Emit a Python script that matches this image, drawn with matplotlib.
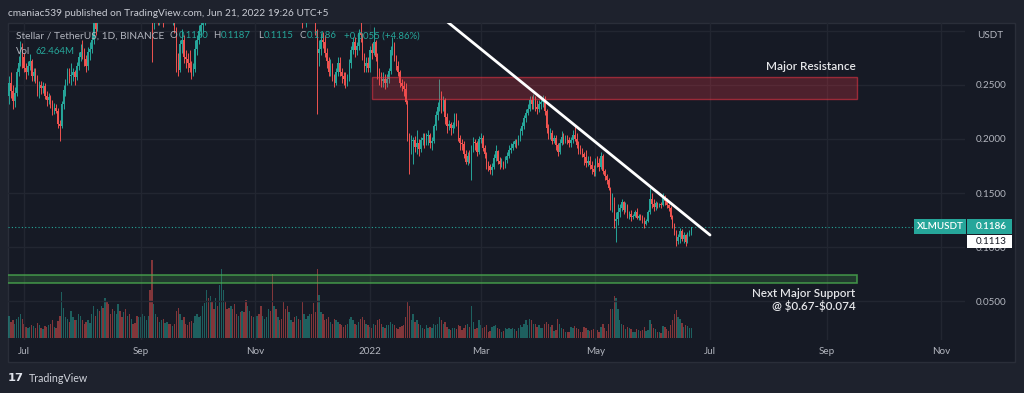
import matplotlib
matplotlib.use('Agg')
import matplotlib.pyplot as plt
import matplotlib.patches as mpatches
import numpy as np
import pandas as pd

# ---------------- data (XLM/USDT daily, Binance) ----------------
start_date = '2021-06-21'
first_open = 0.262

close = [
    # Jun 2021 (21-30)
    0.238, 0.240, 0.252, 0.244, 0.235, 0.243, 0.262, 0.270, 0.281, 0.276,
    # Jul
    0.266, 0.262, 0.268, 0.272, 0.258, 0.262, 0.256, 0.243, 0.250, 0.247, 0.249, 0.240, 0.236, 0.239, 0.232, 0.226,
    0.229, 0.226, 0.214, 0.212, 0.232, 0.245, 0.252, 0.262, 0.258, 0.259, 0.262, 0.257, 0.268, 0.276, 0.281,
    # Aug
    0.279, 0.274, 0.268, 0.281, 0.283, 0.292, 0.310, 0.302, 0.322, 0.320, 0.331, 0.328, 0.352, 0.350, 0.342, 0.339,
    0.326, 0.348, 0.362, 0.382, 0.371, 0.369, 0.380, 0.352, 0.355, 0.331, 0.349, 0.344, 0.340, 0.328, 0.340,
    # Sep
    0.341, 0.356, 0.372, 0.378, 0.391, 0.380, 0.318, 0.322, 0.328, 0.310, 0.318, 0.328, 0.312, 0.320, 0.330,
    0.322, 0.312, 0.316, 0.302, 0.270, 0.264, 0.288, 0.292, 0.276, 0.274, 0.270, 0.266, 0.259, 0.265, 0.283,
    # Oct
    0.292, 0.300, 0.306, 0.311, 0.322, 0.332, 0.330, 0.340, 0.338, 0.335, 0.348, 0.342, 0.352, 0.372, 0.392, 0.388,
    0.380, 0.372, 0.382, 0.380, 0.378, 0.372, 0.380, 0.372, 0.382, 0.370, 0.332, 0.352, 0.372, 0.362, 0.362,
    # Nov
    0.370, 0.372, 0.366, 0.356, 0.366, 0.368, 0.382, 0.396, 0.386, 0.358, 0.366, 0.358, 0.360, 0.358, 0.354,
    0.330, 0.328, 0.312, 0.322, 0.328, 0.320, 0.312, 0.320, 0.318, 0.326, 0.312, 0.314, 0.318, 0.330, 0.332,
    # Dec
    0.326, 0.316, 0.300, 0.280, 0.283, 0.292, 0.290, 0.280, 0.272, 0.262, 0.268, 0.258, 0.252, 0.262, 0.270, 0.262,
    0.258, 0.256, 0.254, 0.257, 0.270, 0.282, 0.290, 0.282, 0.286, 0.298, 0.296, 0.276, 0.268, 0.270, 0.266,
    # Jan 2022
    0.282, 0.280, 0.290, 0.276, 0.262, 0.258, 0.254, 0.256, 0.252, 0.256, 0.263, 0.282, 0.288, 0.276, 0.268, 0.262,
    0.252, 0.249, 0.246, 0.234, 0.203, 0.194, 0.198, 0.199, 0.193, 0.196, 0.191, 0.199, 0.201, 0.196, 0.203,
    # Feb
    0.204, 0.196, 0.198, 0.212, 0.222, 0.230, 0.241, 0.230, 0.236, 0.220, 0.212, 0.214, 0.210, 0.213,
    0.222, 0.216, 0.201, 0.196, 0.195, 0.186, 0.179, 0.184, 0.181, 0.190, 0.197, 0.196, 0.188, 0.200,
    # Mar
    0.201, 0.192, 0.186, 0.176, 0.175, 0.171, 0.174, 0.182, 0.189, 0.180, 0.177, 0.178, 0.175, 0.181, 0.184, 0.190,
    0.192, 0.195, 0.198, 0.196, 0.201, 0.207, 0.212, 0.219, 0.224, 0.228, 0.236, 0.232, 0.238, 0.230, 0.228,
    # Apr
    0.232, 0.234, 0.237, 0.226, 0.210, 0.204, 0.206, 0.198, 0.201, 0.194, 0.188, 0.196, 0.202, 0.198, 0.200,
    0.199, 0.196, 0.199, 0.204, 0.200, 0.194, 0.190, 0.189, 0.186, 0.183, 0.178, 0.180, 0.176, 0.172, 0.169,
    # May
    0.180, 0.178, 0.174, 0.184, 0.170, 0.166, 0.162, 0.155, 0.139, 0.141, 0.124, 0.126, 0.132, 0.136, 0.142, 0.134,
    0.138, 0.129, 0.131, 0.128, 0.129, 0.132, 0.127, 0.129, 0.128, 0.125, 0.121, 0.124, 0.132, 0.144, 0.140,
    # Jun 2022 (1-21)
    0.137, 0.141, 0.139, 0.140, 0.139, 0.146, 0.143, 0.139, 0.136, 0.128, 0.121, 0.114, 0.106, 0.109, 0.115,
    0.107, 0.111, 0.105, 0.112, 0.1131, 0.1186,
]

high = [
    0.265, 0.248, 0.258, 0.262, 0.250, 0.248, 0.266, 0.277, 0.291, 0.289,
    0.280, 0.270, 0.272, 0.279, 0.274, 0.266, 0.266, 0.259, 0.254, 0.254, 0.253, 0.252, 0.244, 0.243, 0.241, 0.236,
    0.233, 0.232, 0.229, 0.218, 0.235, 0.250, 0.256, 0.266, 0.266, 0.270, 0.266, 0.264, 0.271, 0.281, 0.288,
    0.292, 0.284, 0.278, 0.285, 0.290, 0.297, 0.316, 0.318, 0.330, 0.328, 0.340, 0.336, 0.358, 0.360, 0.354, 0.350,
    0.345, 0.352, 0.368, 0.390, 0.386, 0.378, 0.392, 0.384, 0.364, 0.358, 0.352, 0.352, 0.350, 0.345, 0.346,
    0.350, 0.362, 0.378, 0.384, 0.396, 0.398, 0.382, 0.330, 0.338, 0.334, 0.324, 0.336, 0.330, 0.326, 0.336,
    0.336, 0.326, 0.322, 0.320, 0.304, 0.280, 0.292, 0.302, 0.296, 0.282, 0.280, 0.282, 0.272, 0.270, 0.292,
    0.296, 0.306, 0.312, 0.316, 0.328, 0.340, 0.340, 0.352, 0.345, 0.344, 0.355, 0.352, 0.358, 0.378, 0.410, 0.402,
    0.392, 0.388, 0.390, 0.392, 0.394, 0.384, 0.386, 0.384, 0.390, 0.388, 0.374, 0.358, 0.380, 0.378, 0.370,
    0.378, 0.380, 0.380, 0.370, 0.370, 0.374, 0.386, 0.402, 0.400, 0.398, 0.372, 0.370, 0.368, 0.364, 0.364,
    0.356, 0.336, 0.332, 0.326, 0.334, 0.332, 0.326, 0.324, 0.326, 0.332, 0.334, 0.320, 0.322, 0.338, 0.342,
    0.338, 0.330, 0.320, 0.302, 0.292, 0.298, 0.299, 0.296, 0.284, 0.276, 0.274, 0.270, 0.260, 0.266, 0.276, 0.276,
    0.266, 0.262, 0.262, 0.260, 0.274, 0.286, 0.294, 0.294, 0.290, 0.302, 0.308, 0.298, 0.280, 0.276, 0.276,
    0.286, 0.289, 0.304, 0.292, 0.280, 0.266, 0.262, 0.262, 0.260, 0.260, 0.266, 0.286, 0.294, 0.290, 0.278, 0.272,
    0.264, 0.256, 0.254, 0.252, 0.236, 0.206, 0.204, 0.202, 0.203, 0.208, 0.200, 0.202, 0.206, 0.206, 0.206,
    0.208, 0.206, 0.202, 0.214, 0.226, 0.234, 0.256, 0.244, 0.240, 0.238, 0.224, 0.218, 0.216, 0.216,
    0.224, 0.224, 0.218, 0.204, 0.200, 0.198, 0.190, 0.188, 0.190, 0.194, 0.202, 0.200, 0.198, 0.203,
    0.206, 0.204, 0.194, 0.188, 0.180, 0.177, 0.178, 0.186, 0.194, 0.190, 0.183, 0.182, 0.180, 0.184, 0.188, 0.194,
    0.196, 0.198, 0.200, 0.200, 0.204, 0.210, 0.216, 0.222, 0.228, 0.232, 0.240, 0.240, 0.242, 0.240, 0.236,
    0.236, 0.240, 0.241, 0.240, 0.228, 0.214, 0.210, 0.208, 0.204, 0.204, 0.196, 0.200, 0.207, 0.206, 0.204,
    0.204, 0.202, 0.202, 0.208, 0.213, 0.206, 0.198, 0.194, 0.192, 0.188, 0.190, 0.184, 0.184, 0.180, 0.176,
    0.182, 0.184, 0.182, 0.188, 0.186, 0.172, 0.168, 0.164, 0.156, 0.150, 0.146, 0.132, 0.140, 0.140, 0.144, 0.143,
    0.142, 0.140, 0.133, 0.134, 0.131, 0.134, 0.136, 0.131, 0.131, 0.130, 0.128, 0.126, 0.134, 0.155, 0.150,
    0.144, 0.143, 0.142, 0.141, 0.142, 0.150, 0.148, 0.145, 0.140, 0.138, 0.130, 0.122, 0.116, 0.112, 0.118,
    0.117, 0.114, 0.112, 0.114, 0.116, 0.1187,
]

low = [
    0.224, 0.215, 0.232, 0.238, 0.228, 0.230, 0.240, 0.258, 0.268, 0.266,
    0.262, 0.256, 0.259, 0.264, 0.254, 0.254, 0.252, 0.240, 0.238, 0.242, 0.243, 0.237, 0.231, 0.232, 0.229, 0.222,
    0.223, 0.224, 0.210, 0.198, 0.210, 0.228, 0.240, 0.250, 0.252, 0.250, 0.254, 0.250, 0.255, 0.264, 0.272,
    0.274, 0.268, 0.262, 0.264, 0.273, 0.280, 0.288, 0.296, 0.300, 0.310, 0.316, 0.320, 0.326, 0.340, 0.334, 0.330,
    0.322, 0.322, 0.342, 0.360, 0.362, 0.360, 0.366, 0.348, 0.342, 0.326, 0.328, 0.336, 0.335, 0.322, 0.326,
    0.330, 0.338, 0.352, 0.366, 0.374, 0.374, 0.271, 0.302, 0.312, 0.306, 0.306, 0.312, 0.304, 0.308, 0.316,
    0.316, 0.308, 0.306, 0.298, 0.262, 0.258, 0.262, 0.280, 0.270, 0.266, 0.262, 0.262, 0.256, 0.258, 0.262,
    0.278, 0.288, 0.294, 0.298, 0.306, 0.316, 0.324, 0.326, 0.332, 0.326, 0.332, 0.334, 0.338, 0.350, 0.368, 0.376,
    0.370, 0.362, 0.368, 0.370, 0.362, 0.366, 0.370, 0.364, 0.366, 0.364, 0.324, 0.320, 0.348, 0.356, 0.354,
    0.356, 0.362, 0.360, 0.350, 0.352, 0.358, 0.364, 0.378, 0.378, 0.344, 0.348, 0.350, 0.352, 0.350, 0.348,
    0.318, 0.318, 0.308, 0.309, 0.318, 0.314, 0.309, 0.310, 0.310, 0.314, 0.303, 0.308, 0.304, 0.312, 0.320,
    0.322, 0.312, 0.296, 0.223, 0.268, 0.278, 0.284, 0.276, 0.266, 0.258, 0.258, 0.254, 0.248, 0.250, 0.258, 0.258,
    0.252, 0.250, 0.247, 0.249, 0.254, 0.266, 0.279, 0.276, 0.278, 0.282, 0.290, 0.273, 0.262, 0.262, 0.262,
    0.262, 0.274, 0.278, 0.272, 0.256, 0.250, 0.248, 0.248, 0.246, 0.248, 0.252, 0.260, 0.278, 0.272, 0.264, 0.258,
    0.248, 0.244, 0.240, 0.232, 0.198, 0.168, 0.186, 0.177, 0.188, 0.186, 0.184, 0.188, 0.194, 0.192, 0.194,
    0.194, 0.192, 0.190, 0.196, 0.208, 0.218, 0.226, 0.224, 0.226, 0.214, 0.206, 0.208, 0.204, 0.206,
    0.210, 0.212, 0.198, 0.190, 0.190, 0.182, 0.177, 0.176, 0.178, 0.162, 0.188, 0.190, 0.184, 0.186,
    0.196, 0.189, 0.182, 0.172, 0.170, 0.168, 0.167, 0.172, 0.180, 0.177, 0.172, 0.174, 0.172, 0.173, 0.178, 0.182,
    0.187, 0.190, 0.193, 0.192, 0.194, 0.198, 0.204, 0.209, 0.216, 0.222, 0.226, 0.228, 0.228, 0.226, 0.223,
    0.225, 0.228, 0.230, 0.222, 0.206, 0.200, 0.200, 0.195, 0.196, 0.190, 0.184, 0.186, 0.194, 0.195, 0.196,
    0.195, 0.193, 0.193, 0.196, 0.198, 0.192, 0.186, 0.186, 0.183, 0.176, 0.174, 0.175, 0.172, 0.168, 0.166,
    0.166, 0.174, 0.170, 0.172, 0.168, 0.162, 0.158, 0.153, 0.134, 0.132, 0.118, 0.105, 0.120, 0.128, 0.133, 0.131,
    0.132, 0.127, 0.126, 0.124, 0.126, 0.128, 0.126, 0.125, 0.125, 0.122, 0.118, 0.120, 0.123, 0.131, 0.136,
    0.133, 0.134, 0.136, 0.137, 0.136, 0.138, 0.139, 0.136, 0.133, 0.126, 0.118, 0.111, 0.101, 0.103, 0.104,
    0.106, 0.104, 0.101, 0.104, 0.1105, 0.1115,
]

volume_m = [
    170, 210, 140, 100, 110, 90, 120, 130, 150, 120,
    90, 70, 60, 70, 80, 75, 65, 95, 80, 60, 55, 75, 70, 80, 85, 110, 70, 60, 105, 140, 290, 190, 130, 120, 100,
    170, 130, 110, 115, 150, 140,
    110, 90, 100, 110, 95, 150, 200, 140, 180, 170, 200, 190, 250, 230, 210, 150, 180, 170, 150, 210, 170, 130,
    160, 180, 140, 150, 120, 90, 95, 140, 130,
    130, 150, 140, 110, 140, 300, 485, 210, 150, 130, 100, 110, 120, 95, 100, 90, 85, 75, 85, 170, 190, 150,
    110, 130, 85, 80, 100, 105, 95, 140,
    150, 130, 140, 200, 220, 300, 250, 260, 230, 180, 250, 200, 330, 430, 300, 230, 180, 190, 200, 180, 210,
    150, 140, 160, 170, 160, 240, 200, 170, 140, 130,
    170, 140, 150, 200, 140, 120, 130, 180, 170, 400, 200, 180, 130, 110, 120, 230, 180, 200, 160, 110, 100,
    130, 140, 120, 110, 230, 150, 120, 140, 150,
    150, 220, 160, 434, 270, 160, 150, 110, 120, 130, 100, 90, 120, 110, 100, 90, 80, 70, 80, 90, 120, 130,
    110, 90, 80, 100, 120, 130, 110, 90, 80,
    70, 60, 90, 80, 110, 120, 90, 70, 60, 80, 80, 100, 90, 80, 60, 55, 70, 75, 80, 130, 230, 200, 110, 150,
    100, 110, 90, 80, 60, 55, 80,
    60, 70, 65, 90, 80, 90, 130, 110, 90, 100, 70, 55, 50, 60, 65, 55, 80, 75, 50, 60, 80, 90, 70, 200, 100,
    55, 60, 110,
    80, 60, 70, 80, 40, 45, 70, 75, 80, 60, 55, 40, 45, 60, 55, 65, 55, 60, 55, 45, 60, 80, 70, 90, 110, 80,
    120, 110, 90, 85, 70,
    80, 60, 65, 90, 100, 85, 70, 80, 45, 50, 120, 90, 60, 55, 40, 35, 40, 70, 60, 75, 60, 55, 40, 35, 70, 65,
    50, 45, 50, 55,
    45, 50, 40, 70, 90, 60, 45, 85, 180, 180, 265, 250, 180, 110, 90, 80, 55, 70, 60, 55, 40, 35, 55, 50, 45,
    50, 70, 45, 50, 110, 90,
    60, 55, 40, 35, 30, 75, 70, 55, 45, 80, 110, 150, 175, 130, 120, 95, 70, 80, 75, 65, 62.464,
]

price_ticks = [0.05, 0.10, 0.15, 0.20, 0.25, 0.30]
legend_title = 'Stellar / TetherUS, 1D, BINANCE'
legend_keys = ['O', 'H', 'L', 'C']
legend_vals = ['0.1130', '0.1187', '0.1115', '0.1186']
legend_change = '+0.0055 (+4.86%)'
vol_label = '62.464M'
symbol = 'XLMUSDT'
extra_price_label = '0.1113'
header = 'cmaniac539 published on TradingView.com, Jun 21, 2022 19:26 UTC+5'
support_note = ['Next Major Support', '@ \\$0.67-\\$0.074']

resistance = ('2022-01-02', '2022-09-17', 0.2368, 0.2570)
support = ('2021-06-01', '2022-09-17', 0.0664, 0.0741)
trend = (('2022-02-11', 0.3088), ('2022-07-01', 0.1111))

# ---------------- style ----------------
plt.rcParams['font.family'] = ['Lato', 'DejaVu Sans']
TXT = '#b2b5be'
TEAL = '#26a69a'
RED = '#ef5350'
PANEL = '#161a25'
OUTER = '#1e222d'
GRID = '#222631'

W, H = 1024, 393
def fx(px): return px / W
def fy(py): return 1 - py / H

fig = plt.figure(figsize=(W / 100, H / 100), dpi=100, facecolor=OUTER)
R = fig.canvas.get_renderer()

def fit(t, w):
    t.set_fontsize(10)
    bb = t.get_window_extent(R)
    t.set_fontsize(10 * w / bb.width)
    return t

def width_px(t):
    return t.get_window_extent(R).width

fig.patches.append(mpatches.Rectangle((fx(8), fy(362)), fx(1015) - fx(8), fy(23) - fy(362),
                                      transform=fig.transFigure, facecolor=PANEL,
                                      edgecolor='#2a2e39', lw=1, zorder=-2))

ref = pd.Timestamp('2022-01-01')
def dnum(s): return (pd.Timestamp(s) - ref).days

dates = pd.date_range(start_date, periods=len(close), freq='D')
d = np.asarray((dates - ref).days, dtype=float)
c = np.array(close)
o = np.r_[first_open, c[:-1]]
h = np.maximum(np.array(high), np.maximum(o, c))
l = np.minimum(np.array(low), np.minimum(o, c))
v = np.array(volume_m)
up = c >= o
cols = np.where(up, TEAL, RED)

ax = fig.add_axes([fx(8), fy(340), fx(965) - fx(8), fy(23) - fy(340)])
axv = ax.twinx()
ax.set_zorder(2); axv.set_zorder(1)
ax.patch.set_visible(False); axv.patch.set_visible(False)

ax.set_xlim(-192.6, 316.7)
ax.set_ylim(0.0139, 0.3074)
axv.set_ylim(-12.5, 1967.5)

# volume
axv.bar(d, v, width=0.72, color=cols, alpha=0.5, lw=0)
axv.set_yticks([])
axv.tick_params(right=False, labelright=False)
for s in axv.spines.values():
    s.set_visible(False)

# grid
ms = pd.date_range('2021-07-01', '2022-11-01', freq='2MS')
tick_d = [(m - ref).days for m in ms]
tick_lab = [str(m.year) if m.month == 1 else m.strftime('%b') for m in ms]
for t in tick_d:
    ax.axvline(t, color=GRID, lw=1, zorder=0)
for p in price_ticks:
    ax.axhline(p, color=GRID, lw=1, zorder=0)

# candles
ax.vlines(d, l, h, colors=cols, lw=0.7, zorder=3)
ax.bar(d, np.maximum(np.abs(c - o), 0.0005), bottom=np.minimum(o, c), width=0.72, color=cols, lw=0, zorder=4)

# last price dotted line
ax.axhline(c[-1], color=TEAL, lw=0.8, ls=(0, (1, 2)), zorder=2)

# zones
r0, r1, rb, rt = resistance
ax.add_patch(mpatches.Rectangle((dnum(r0), rb), dnum(r1) - dnum(r0), rt - rb,
                                facecolor=(0.949, 0.212, 0.271, 0.25),
                                edgecolor=(0.949, 0.212, 0.271, 0.55), lw=1, zorder=5))
s0, s1, sb, st = support
ax.add_patch(mpatches.Rectangle((dnum(s0), sb), dnum(s1) - dnum(s0), st - sb,
                                facecolor=(0.298, 0.686, 0.314, 0.22),
                                edgecolor=(0.298, 0.686, 0.314, 0.75), lw=1.2, zorder=5))
# trend line
(t0, p0), (t1, p1) = trend
ax.plot([dnum(t0), dnum(t1)], [p0, p1], color='white', lw=2, solid_capstyle='round', zorder=6)

# annotations
xr = dnum(r1) - 0.6
t = ax.text(xr, 0.2667, 'Major Resistance', ha='right', va='center', color='#e6e7ea', weight='semibold', zorder=7)
fit(t, 90)
t1_ = ax.text(xr, 0.0570, support_note[0], ha='right', va='center', color='#e6e7ea', weight='semibold', zorder=7)
fit(t1_, 103)
ax.text(xr, 0.0458, support_note[1], ha='right', va='center', color='#e6e7ea', weight='semibold',
        fontsize=t1_.get_fontsize(), zorder=7)

# ticks
tmp = fig.text(0, 0, '0.2500')
tick_fs = fit(tmp, 31).get_fontsize()
tmp.remove()
ax.yaxis.tick_right()
ax.set_yticks(price_ticks)
ax.set_yticklabels(['%.4f' % p if p < 0.29 else '' for p in price_ticks])
ax.tick_params(axis='y', length=0, pad=7.9, labelcolor=TXT, labelsize=tick_fs)
ax.set_xticks(tick_d)
ax.set_xticklabels(tick_lab)
ax.tick_params(axis='x', length=0, pad=5.2, labelcolor=TXT, labelsize=tick_fs)
for s in ax.spines.values():
    s.set_visible(False)

fig.text(fx(977), fy(35), 'USDT', color=TXT, fontsize=tick_fs, ha='left', va='center')

# right price labels
yc = ax.transData.transform((0, c[-1]))[1] / H
fig.patches.append(mpatches.Rectangle((fx(914), yc - 7.5 / H), 52 / W, 15 / H, transform=fig.transFigure,
                                      facecolor=TEAL, lw=0, zorder=5))
fig.patches.append(mpatches.Rectangle((fx(967), yc - 7.5 / H), 45 / W, 15 / H, transform=fig.transFigure,
                                      facecolor=TEAL, lw=0, zorder=5))
fig.patches.append(mpatches.Rectangle((fx(967), yc - 21.5 / H), 45 / W, 13.5 / H, transform=fig.transFigure,
                                      facecolor='white', lw=0, zorder=5))
fig.text(fx(940), yc, symbol, color='white', fontsize=tick_fs, ha='center', va='center', zorder=6, weight='semibold')
fig.text(fx(976), yc, '%.4f' % c[-1], color='white', fontsize=tick_fs, ha='left', va='center', zorder=6, weight='semibold')
fig.text(fx(976), yc - 14.5 / H, extra_price_label, color='#131722', fontsize=tick_fs, ha='left', va='center', zorder=6)

# header
fit(fig.text(fx(8), fy(13), header, color='#c9ccd4', ha='left', va='center'), 322)

# legend
fit(fig.text(fx(15.7), fy(36), legend_title, color=TXT, ha='left', va='center', zorder=8), 148)
tmpv = fig.text(0, 0, legend_vals[0])
vfs = fit(tmpv, 30).get_fontsize()
tmpv.remove()
kx = [170, 213, 258, 299.5]
for k, val, a in zip(legend_keys, legend_vals, kx):
    kt = fig.text(fx(a), fy(36), k, color=TXT, fontsize=vfs, ha='left', va='center', zorder=8)
    fig.text(fx(a + width_px(kt) + 0.8), fy(36), val, color=TEAL, fontsize=vfs, ha='left', va='center', zorder=8)
fig.text(fx(343.5), fy(36), legend_change, color=TEAL, fontsize=vfs, ha='left', va='center', zorder=8)
fig.text(fx(15.7), fy(51), 'Vol', color=TXT, fontsize=vfs, ha='left', va='center', zorder=8)
fig.text(fx(36), fy(51), vol_label, color=TEAL, fontsize=vfs, ha='left', va='center', zorder=8)

# footer logo
fit(fig.text(fx(8), fy(378), '17', color='#e0e3eb', weight='heavy', ha='left', va='center',
             family='DejaVu Sans'), 16)
fit(fig.text(fx(29), fy(378.5), 'TradingView', color='#d1d4dc', ha='left', va='center'), 59)

fig.savefig('out.png', dpi=100, facecolor=OUTER)
